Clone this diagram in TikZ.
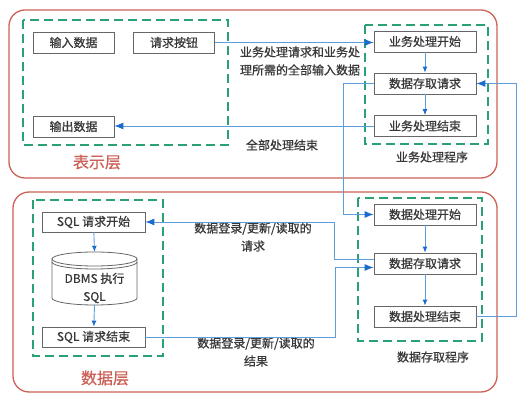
\documentclass[tikz,border=0pt]{standalone}
\usepackage{fontspec}
\setmainfont{Noto Sans CJK SC}[FakeBold=0.8]
\usepackage{tikz}
\usetikzlibrary{arrows.meta}
\definecolor{zonered}{rgb}{0.80, 0.38, 0.34}
\definecolor{proggreen}{rgb}{0.16, 0.63, 0.45}
\definecolor{boxgray}{rgb}{0.40, 0.40, 0.40}
\definecolor{flowblue}{rgb}{0.36, 0.62, 0.86}
\definecolor{tipblue}{rgb}{0.10, 0.42, 0.80}
\definecolor{txtgray}{rgb}{0.22, 0.22, 0.22}
\tikzstyle{zone}=[draw=zonered, line width=1.3pt, rounded corners=16pt]
\tikzstyle{prog}=[draw=proggreen, line width=1.8pt, dash pattern=on 9pt off 5pt]
\tikzstyle{box}=[draw=boxgray, fill=white, line width=0.8pt, minimum width=81pt, minimum height=21pt, inner sep=1pt, text=txtgray, font=\fontsize{12}{14}\selectfont]
\tikzstyle{lbl}=[align=center, text=txtgray, font=\fontsize{12}{18}\selectfont]
\tikzstyle{flow}=[draw=flowblue, line width=0.9pt, -{Latex[length=9pt,width=7pt,color=tipblue]}]
\tikzstyle{flowin}=[draw=flowblue, line width=0.9pt, -{Latex[length=6pt,width=5pt,color=tipblue]}]

\begin{document}
\begin{tikzpicture}[x=1pt,y=-1pt]
\useasboundingbox (0,0) rectangle (523,411);
\draw[zone] (9,10) rectangle (497,178);
\draw[zone] (13,192) rectangle (497,392);
\draw[prog] (23,20) rectangle (228,145);
\draw[prog] (365,25) rectangle (488,144);
\draw[prog] (33,200) rectangle (163,356);
\draw[prog] (358,198) rectangle (482,341);
\node[font=\fontsize{16}{18}\selectfont, text=zonered] (tview) at (97,162) {表示层};
\node[font=\fontsize{16}{18}\selectfont, text=zonered] (tdata) at (105,378) {数据层};
\node[box] (in) at (73.5,42.5) {输入数据};
\node[box] (btn) at (174,42.5) {请求按钮};
\node[box] (out) at (73.5,126.5) {输出数据};
\node[box, minimum width=102pt] (bstart) at (425,41.5) {业务处理开始};
\node[box, minimum width=102pt] (breq) at (425,83.5) {数据存取请求};
\node[box, minimum width=102pt] (bend) at (425,126) {业务处理结束};
\node[box, minimum width=102pt] (dstart) at (425,214.5) {数据处理开始};
\node[box, minimum width=102pt] (dreq) at (425,263.5) {数据存取请求};
\node[box, minimum width=102pt] (dend) at (425,316.5) {数据处理结束};
\node[box, minimum width=103pt, minimum height=20pt] (sqls) at (93.5,222) {SQL 请求开始};
\node[box, minimum width=103pt, minimum height=20pt] (sqle) at (93.5,337) {SQL 请求结束};
\node[minimum width=85pt, minimum height=53pt, inner sep=0pt] (db) at (94.5,278.5) {};
\draw[boxgray, line width=0.8pt] (52,259) -- (52,298) arc[start angle=180, end angle=360, x radius=42.5pt, y radius=7pt] -- (137,259);
\draw[boxgray, line width=0.8pt] (94.5,259) ellipse[x radius=42.5pt, y radius=7pt];
\draw[boxgray, line width=0.8pt] (52,262) arc[start angle=180, end angle=360, x radius=42.5pt, y radius=7pt];
\node[lbl] (dbtxt) at (94.5,288) {DBMS 执行\\SQL};
\node[lbl] (treq) at (300,61) {业务处理请求和业务处\\理所需的全部输入数据};
\node[lbl] (tend) at (282,145) {全部处理结束};
\node[lbl] (tbprog) at (432,157) {业务处理程序};
\node[lbl] (tdprog) at (433,357) {数据存取程序};
\node[lbl] (tsreq) at (253,237) {数据登录/更新/读取的\\请求};
\node[lbl] (tsres) at (256,352) {数据登录/更新/读取的\\结果};
\draw[flow] (btn.east) -- (btn.east -| bstart.west);
\draw[flow] (bend.west) -- (bend.west -| out.east);
\draw[flow] (breq.west) -- ++(-30,0) |- (dstart.west);
\draw[flow] (dend.east) -- ++(40,0) |- (breq.east);
\draw[flow] ([yshift=4pt]dreq.west) -- ++(-39,0) |- (sqls.east);
\draw[flow] (sqle.east) -- ++(190,0) |- ([yshift=-4pt]dreq.west);
\draw[flowin] (bstart) -- (breq);
\draw[flowin] (breq) -- (bend);
\draw[flowin] (dstart) -- (dreq);
\draw[flowin] (dreq) -- (dend);
\draw[flowin] (sqls) -- (db.north);
\draw[flowin] (db.south) -- (sqle);
\end{tikzpicture}
\end{document}
